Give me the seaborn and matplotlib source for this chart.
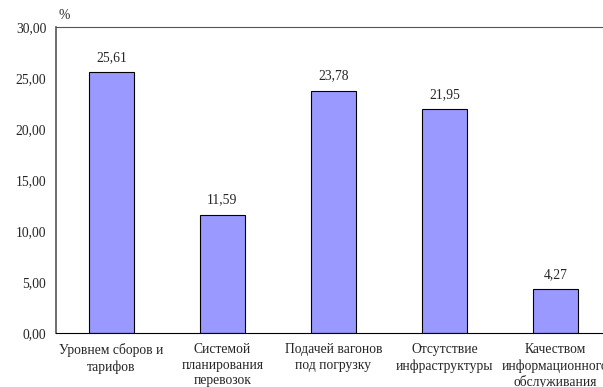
import matplotlib
matplotlib.use("Agg")
import matplotlib.pyplot as plt
import seaborn as sns
import pandas as pd

categories = [
    "Уровнем сборов и\nтарифов",
    "Системой\nпланирования\nперевозок",
    "Подачей вагонов\nпод погрузку",
    "Отсутствие\nинфраструктуры",
    "Качеством\nинформационного\nобслуживания",
]
values = [25.61, 11.59, 23.78, 21.95, 4.27]
yticks = [0, 5, 10, 15, 20, 25, 30]

sns.set_style("white")
plt.rcParams["font.family"] = ["Liberation Serif", "DejaVu Serif"]

FS = 9.8

df = pd.DataFrame({"cat": categories, "val": values})

fig = plt.figure(figsize=(6.03, 3.87), dpi=100)
ax = fig.add_axes([0.0929, 0.1395, 0.920, 0.7905])

sns.barplot(data=df, x="cat", y="val", ax=ax, color="#9999FF",
            saturation=1, width=0.41, edgecolor="black", linewidth=0.8)

ax.set_xlim(-0.5, 4.5)
ax.set_ylim(0, 30)
ax.set_yticks(yticks)
ax.set_yticklabels([f"{v:.2f}".replace(".", ",") for v in yticks], fontsize=FS)
ax.set_xlabel("")
ax.set_ylabel("")

# category separators on the x axis
ax.set_xticks([0, 1, 2, 3, 4])
ax.set_xticklabels(categories, fontsize=FS, linespacing=1.25)
ax.set_xticks([0.5, 1.5, 2.5, 3.5], minor=True)
ax.tick_params(axis="x", which="major", length=0, pad=7.5)
ax.tick_params(axis="x", which="minor", length=4, width=0.8, color="black", direction="out")
ax.tick_params(axis="y", length=4, width=0.8, color="#555555", direction="out", pad=3)

for s in ["top", "right"]:
    ax.spines[s].set_visible(False)
ax.spines["left"].set_color("#555555")
ax.spines["left"].set_linewidth(1.2)
ax.spines["bottom"].set_color("black")
ax.spines["bottom"].set_linewidth(0.8)
ax.axhline(30, color="#555555", linewidth=0.8, clip_on=False)

for i, v in enumerate(values):
    ax.text(i, v + 0.8, f"{v:.2f}".replace(".", ","), ha="center", va="bottom", fontsize=FS)

ax.text(-0.48, 30.5, "%", ha="left", va="bottom", fontsize=FS)

fig.savefig("out.png", dpi=100)
